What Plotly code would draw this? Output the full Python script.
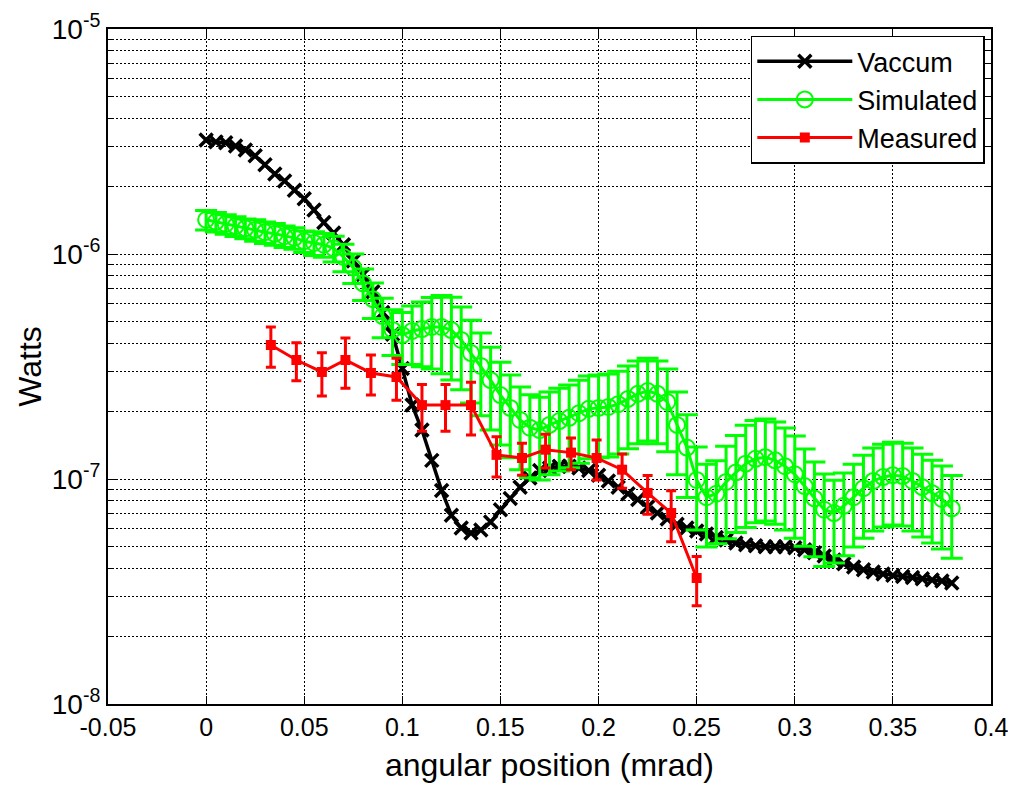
import plotly.graph_objects as go

# angular position (mrad) for the Vaccum and Simulated curves
angle = [0.000, 0.005, 0.010, 0.015, 0.020, 0.025, 0.030, 0.035, 0.040, 0.045,
         0.050, 0.055, 0.060, 0.065, 0.070, 0.075, 0.080, 0.085, 0.090, 0.095,
         0.100, 0.105, 0.110, 0.115, 0.120, 0.125, 0.130, 0.135, 0.140, 0.145,
         0.150, 0.155, 0.160, 0.165, 0.170, 0.175, 0.180, 0.185, 0.190, 0.195,
         0.200, 0.205, 0.210, 0.215, 0.220, 0.225, 0.230, 0.235, 0.240, 0.245,
         0.250, 0.255, 0.260, 0.265, 0.270, 0.275, 0.280, 0.285, 0.290, 0.295,
         0.300, 0.305, 0.310, 0.315, 0.320, 0.325, 0.330, 0.335, 0.340, 0.345,
         0.350, 0.355, 0.360, 0.365, 0.370, 0.375, 0.380]

vaccum = [3.21e-6, 3.15e-6, 3.12e-6, 3.02e-6, 2.90e-6, 2.73e-6, 2.49e-6, 2.27e-6, 2.11e-6, 1.92e-6,
          1.76e-6, 1.57e-6, 1.38e-6, 1.24e-6, 1.10e-6, 9.3e-7, 8.1e-7, 6.8e-7, 5.5e-7, 4.4e-7,
          3.1e-7, 2.13e-7, 1.65e-7, 1.21e-7, 8.9e-8, 6.9e-8, 6.05e-8, 5.75e-8, 5.93e-8, 6.44e-8,
          7.3e-8, 8.2e-8, 9.2e-8, 1.01e-7, 1.09e-7, 1.12e-7, 1.14e-7, 1.14e-7, 1.12e-7, 1.09e-7,
          1.04e-7, 9.8e-8, 9.2e-8, 8.6e-8, 8.1e-8, 7.5e-8, 7.06e-8, 6.64e-8, 6.3e-8, 6.05e-8,
          5.87e-8, 5.7e-8, 5.5e-8, 5.36e-8, 5.2e-8, 5.1e-8, 5.05e-8, 5.0e-8, 5.0e-8, 5.0e-8,
          4.95e-8, 4.85e-8, 4.7e-8, 4.55e-8, 4.37e-8, 4.2e-8, 4.06e-8, 3.95e-8, 3.86e-8, 3.78e-8,
          3.73e-8, 3.69e-8, 3.65e-8, 3.6e-8, 3.56e-8, 3.52e-8, 3.45e-8]

simulated = [1.42e-6, 1.39e-6, 1.36e-6, 1.33e-6, 1.30e-6, 1.28e-6, 1.25e-6, 1.23e-6, 1.20e-6, 1.18e-6,
             1.14e-6, 1.12e-6, 1.10e-6, 1.06e-6, 9.7e-7, 8.7e-7, 7.4e-7, 6.3e-7, 5.3e-7, 4.6e-7,
             4.36e-7, 4.55e-7, 4.64e-7, 4.74e-7, 4.74e-7, 4.59e-7, 4.15e-7, 3.63e-7, 3.18e-7, 2.75e-7,
             2.36e-7, 2.07e-7, 1.83e-7, 1.69e-7, 1.65e-7, 1.74e-7, 1.81e-7, 1.87e-7, 1.96e-7, 2.05e-7,
             2.07e-7, 2.09e-7, 2.15e-7, 2.27e-7, 2.39e-7, 2.46e-7, 2.39e-7, 2.2e-7, 1.74e-7, 1.38e-7,
             9.9e-8, 8.3e-8, 8.6e-8, 9.7e-8, 1.07e-7, 1.17e-7, 1.23e-7, 1.25e-7, 1.21e-7, 1.14e-7,
             1.05e-7, 9.3e-8, 8.2e-8, 7.3e-8, 7.06e-8, 7.6e-8, 8.3e-8, 9.1e-8, 9.8e-8, 1.02e-7,
             1.04e-7, 1.03e-7, 9.8e-8, 9.2e-8, 8.65e-8, 8.15e-8, 7.4e-8]

# relative (fractional) error of the simulated curve
sim_rel_err = [0.10, 0.10, 0.10, 0.10, 0.10, 0.11, 0.11, 0.11, 0.11, 0.11,
               0.11, 0.12, 0.12, 0.13, 0.14, 0.15, 0.16, 0.18, 0.20, 0.23,
               0.26, 0.29, 0.32, 0.35, 0.38, 0.40, 0.40, 0.40, 0.40, 0.40,
               0.40, 0.40, 0.40, 0.40, 0.40, 0.40, 0.40, 0.40, 0.40, 0.40,
               0.40, 0.40, 0.40, 0.40, 0.40, 0.40, 0.40, 0.40, 0.40, 0.40,
               0.40, 0.40, 0.40, 0.44, 0.46, 0.48, 0.48, 0.48, 0.48, 0.48,
               0.48, 0.46, 0.45, 0.44, 0.40, 0.40, 0.40, 0.40, 0.40, 0.40,
               0.40, 0.40, 0.40, 0.40, 0.40, 0.40, 0.40]

# measured points
meas_angle = [0.033, 0.046, 0.059, 0.071, 0.084, 0.097, 0.110, 0.122, 0.135,
              0.148, 0.161, 0.173, 0.186, 0.199, 0.212, 0.225, 0.237, 0.250]
measured = [3.94e-7, 3.38e-7, 2.99e-7, 3.38e-7, 2.96e-7, 2.84e-7, 2.13e-7, 2.13e-7, 2.13e-7,
            1.28e-7, 1.24e-7, 1.35e-7, 1.31e-7, 1.24e-7, 1.10e-7, 8.67e-8, 7.06e-8, 3.63e-8]
meas_err = [0.80e-7, 0.65e-7, 0.65e-7, 0.85e-7, 0.60e-7, 0.60e-7, 0.50e-7, 0.50e-7, 0.56e-7,
            0.26e-7, 0.20e-7, 0.23e-7, 0.21e-7, 0.25e-7, 0.19e-7, 0.17e-7, 0.18e-7, 0.09e-7]

x_ticks = [-0.05, 0, 0.05, 0.1, 0.15, 0.2, 0.25, 0.3, 0.35, 0.4]
x_labels = ["-0.05", "0", "0.05", "0.1", "0.15", "0.2", "0.25", "0.3", "0.35", "0.4"]
y_ticks = [1e-8, 1e-7, 1e-6, 1e-5]
y_labels = ["10<sup>-8</sup>", "10<sup>-7</sup>", "10<sup>-6</sup>", "10<sup>-5</sup>"]

GREEN = "#00FF00"
RED = "#FF0000"

sim_err = [v * r for v, r in zip(simulated, sim_rel_err)]

fig = go.Figure()

fig.add_trace(go.Scatter(
    x=angle, y=vaccum, name="Vaccum", mode="lines+markers",
    line=dict(color="black", width=3.5),
    marker=dict(symbol="x-thin", size=13, line=dict(color="black", width=3.5)),
))

fig.add_trace(go.Scatter(
    x=angle, y=simulated, name="Simulated", mode="lines+markers",
    line=dict(color=GREEN, width=3),
    marker=dict(symbol="circle-open", size=16, color=GREEN, line=dict(width=2)),
    error_y=dict(type="data", array=sim_err, visible=True, color=GREEN, thickness=3, width=11),
))

fig.add_trace(go.Scatter(
    x=meas_angle, y=measured, name="Measured", mode="lines+markers",
    line=dict(color=RED, width=3),
    marker=dict(symbol="square", size=10, color=RED),
    error_y=dict(type="data", array=meas_err, visible=True, color=RED, thickness=3, width=5),
))

grid_dash = "2px,2px"

# the page body adds an 8px offset, so the figure is 8px smaller than the window
fig.update_layout(
    width=1008, height=782,
    margin=dict(l=100, r=25, t=21, b=86),
    paper_bgcolor="white", plot_bgcolor="white",
    font=dict(family="Liberation Sans, Arial, sans-serif", color="black", size=25),
    showlegend=True,
    legend=dict(
        x=0.993, y=0.99, xanchor="right", yanchor="top",
        bgcolor="white", bordercolor="black", borderwidth=1.5,
        font=dict(size=27), itemwidth=95,
    ),
    xaxis=dict(
        range=[-0.05, 0.4], tickvals=x_ticks, ticktext=x_labels, automargin=False,
        showline=True, linecolor="black", linewidth=2, mirror="ticks",
        ticks="inside", ticklen=8, tickcolor="black",
        showgrid=True, gridcolor="black", gridwidth=1, griddash=grid_dash,
        zeroline=False,
        title=dict(text="angular position (mrad)", font=dict(size=32), standoff=14),
    ),
    yaxis=dict(
        type="log", range=[-8, -5], tickvals=y_ticks, ticktext=y_labels, automargin=False,
        tickfont=dict(size=28),
        showline=True, linecolor="black", linewidth=2, mirror="ticks",
        ticks="inside", ticklen=8, tickcolor="black",
        showgrid=True, gridcolor="black", gridwidth=1, griddash=grid_dash,
        minor=dict(dtick="D1", showgrid=True, gridcolor="black", gridwidth=1,
                   griddash=grid_dash, ticks="inside", ticklen=5, tickcolor="black"),
        zeroline=False,
        title=dict(text="Watts", font=dict(size=32), standoff=1),
    ),
)

fig.write_html("out.html")
